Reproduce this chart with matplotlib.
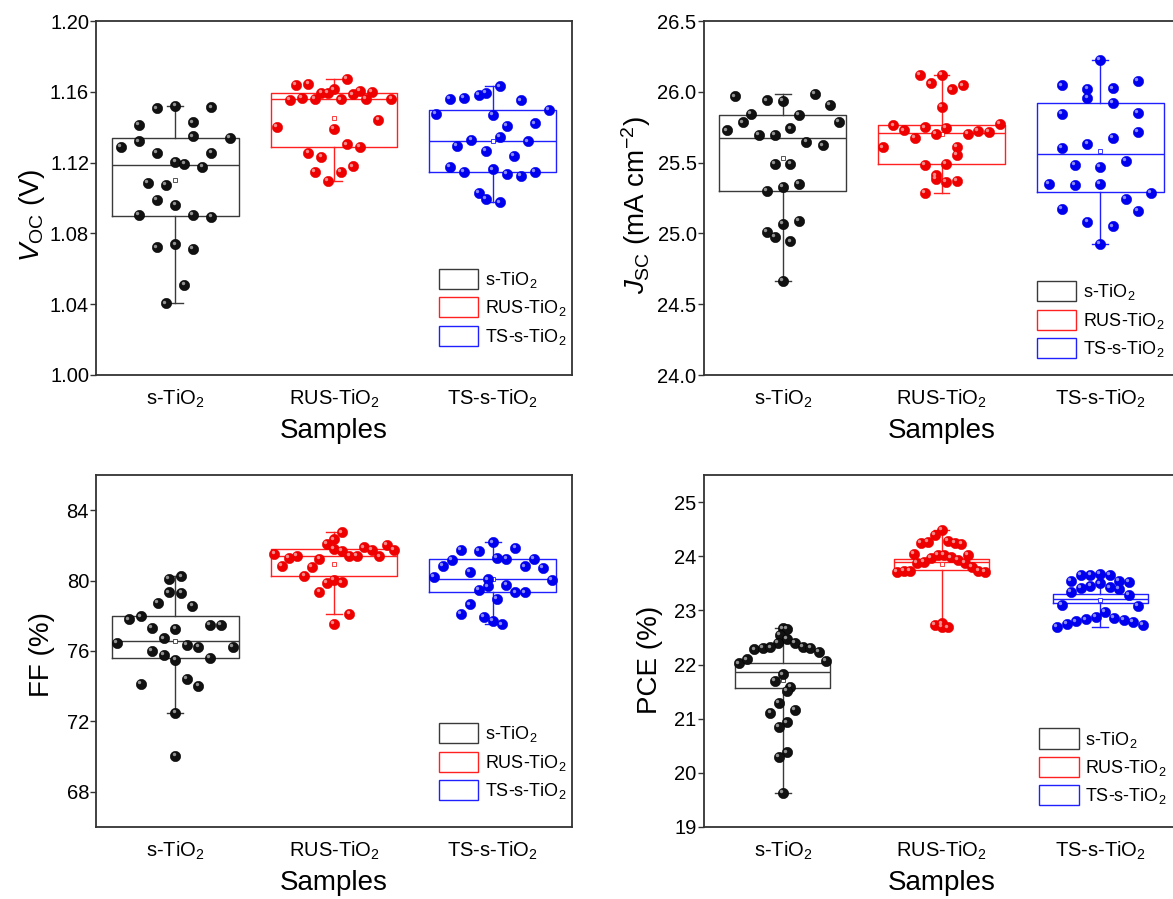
import matplotlib

matplotlib.use("Agg")
import matplotlib.pyplot as plt
from matplotlib.patches import Patch
from matplotlib.transforms import offset_copy

plt.rcParams["font.family"] = ["Liberation Sans", "DejaVu Sans"]
plt.rcParams["mathtext.fontset"] = "custom"
plt.rcParams["mathtext.rm"] = "Liberation Sans"
plt.rcParams["mathtext.it"] = "Liberation Sans:italic"
plt.rcParams["mathtext.bf"] = "Liberation Sans:bold"

SAMPLES = ["s-TiO$_2$", "RUS-TiO$_2$", "TS-s-TiO$_2$"]

# ---- V_OC (V) ----
voc_s_dx = [-0.116, 0, 0.227, -0.231, 0.111, 0.111, 0.342, -0.345, -0.231, -0.116, 0.227, 0, 0.057,
            0.170, -0.172, -0.059, -0.116, 0, -0.231, 0.111, 0.227, -0.116, 0, 0.111, 0.057, -0.059]
voc_s_y = [1.1506, 1.1521, 1.1512, 1.1414, 1.1427, 1.1348, 1.1341, 1.1288, 1.1320, 1.1255, 1.1255, 1.1206, 1.1194,
           1.1176, 1.1087, 1.1074, 1.0988, 1.0960, 1.0903, 1.0903, 1.0894, 1.0721, 1.0738, 1.0712, 1.0507, 1.0404]
voc_r_dx = [-0.241, -0.161, 0.081, -0.079, -0.039, 0, 0.121, 0.161, 0.241, -0.280, -0.201, -0.121, 0.041,
            0.200, 0.362, -0.362, 0.280, 0, 0.081, 0.161, -0.161, -0.079, -0.121, 0.041, 0.121, -0.039]
voc_r_y = [1.1638, 1.1643, 1.1675, 1.1594, 1.1593, 1.1613, 1.1585, 1.1606, 1.1598, 1.1553, 1.1566, 1.1562, 1.1557,
           1.1562, 1.1562, 1.1403, 1.1439, 1.1390, 1.1303, 1.1288, 1.1255, 1.1232, 1.1149, 1.1146, 1.1178, 1.1097]
voc_b_dx = [-0.267, -0.179, -0.088, -0.045, 0.044, 0.176, -0.357, 0, 0.355, 0.088, 0.267, -0.134, 0.044,
            0.223, -0.223, -0.045, 0.132, -0.267, -0.179, 0, 0.088, 0.176, 0.267, -0.088, -0.045, 0.044]
voc_b_y = [1.1562, 1.1564, 1.1583, 1.1596, 1.1630, 1.1551, 1.1474, 1.1468, 1.1500, 1.1407, 1.1422, 1.1326, 1.1343,
           1.1320, 1.1294, 1.1264, 1.1238, 1.1177, 1.1147, 1.1162, 1.1136, 1.1123, 1.1147, 1.1029, 1.0995, 1.0975]
voc_lo = [1.0404, 1.1097, 1.0975]
voc_q1 = [1.0901, 1.1286, 1.1149]
voc_med = [1.1185, 1.1561, 1.1322]
voc_q3 = [1.1339, 1.1593, 1.1499]
voc_hi = [1.1521, 1.1675, 1.1630]
voc_mean = [1.1104, 1.1452, 1.1322]

# ---- J_SC (mA cm-2) ----
jsc_s_dx = [-0.300, -0.101, 0, 0.200, 0.298, -0.202, 0.099, -0.252, -0.351, 0.351, -0.151, -0.050, 0.048,
            0.149, 0.250, -0.050, 0.048, -0.101, 0, 0.099, 0, 0.099, -0.101, -0.050, 0.048, 0]
jsc_s_y = [25.968, 25.939, 25.937, 25.986, 25.909, 25.845, 25.838, 25.784, 25.728, 25.786, 25.697, 25.695, 25.742,
           25.648, 25.622, 25.493, 25.493, 25.298, 25.328, 25.349, 25.067, 25.091, 25.011, 24.975, 24.943, 24.665]
jsc_r_dx = [-0.137, 0, -0.069, 0.065, 0.134, 0, -0.303, -0.235, -0.168, -0.103, -0.036, 0.029, 0.164,
            0.231, 0.298, 0.366, -0.370, 0.097, 0.097, -0.103, 0.029, -0.036, -0.036, 0.029, 0.097, -0.103]
jsc_r_y = [26.120, 26.120, 26.059, 26.017, 26.045, 25.892, 25.763, 25.728, 25.676, 25.749, 25.704, 25.747, 25.702,
           25.725, 25.716, 25.772, 25.608, 25.613, 25.554, 25.483, 25.490, 25.410, 25.387, 25.363, 25.373, 25.286]
jsc_b_dx = [0, -0.239, -0.080, 0.080, 0.239, -0.080, 0.080, -0.239, 0.239, 0.239, 0.080, -0.080, -0.239,
            0.160, -0.160, 0, -0.321, -0.160, 0, 0.319, 0.160, -0.239, 0.239, -0.080, 0.080, 0]
jsc_b_y = [26.228, 26.045, 26.019, 26.024, 26.075, 25.958, 25.923, 25.845, 25.850, 25.716, 25.674, 25.634, 25.606,
           25.514, 25.483, 25.471, 25.352, 25.343, 25.347, 25.286, 25.241, 25.173, 25.159, 25.084, 25.049, 24.924]
jsc_lo = [24.665, 25.286, 24.924]
jsc_q1 = [25.300, 25.487, 25.289]
jsc_med = [25.671, 25.711, 25.559]
jsc_q3 = [25.836, 25.766, 25.923]
jsc_hi = [25.986, 26.120, 26.228]
jsc_mean = [25.532, 25.700, 25.580]

# ---- FF (%) ----
ff_s_dx = [-0.038, 0.038, -0.038, 0.038, -0.111, 0.107, -0.292, -0.218, -0.147, 0, 0.216, 0.288, -0.074,
           -0.366, 0.071, 0.145, 0.363, -0.147, -0.074, 0, 0.216, -0.218, 0.071, 0.145, 0, 0]
ff_s_y = [80.11, 80.24, 79.33, 79.30, 78.73, 78.58, 77.80, 77.97, 77.33, 77.27, 77.46, 77.46, 76.72,
          76.44, 76.36, 76.21, 76.23, 76.00, 75.77, 75.49, 75.60, 74.13, 74.41, 74.03, 72.46, 70.02]
ff_r_dx = [0.048, 0, -0.046, 0, 0.048, -0.376, -0.282, -0.233, -0.092, 0.097, 0.143, 0.189, 0.237,
           0.286, 0.332, 0.380, -0.328, -0.139, -0.187, -0.046, 0, 0.048, -0.092, 0.097, 0]
ff_r_y = [82.74, 82.34, 82.08, 81.81, 81.68, 81.51, 81.28, 81.40, 81.21, 81.40, 81.40, 81.89, 81.74,
          81.38, 82.02, 81.74, 80.83, 80.76, 80.26, 79.86, 80.02, 79.90, 79.35, 78.10, 77.53]
ff_b_dx = [0, -0.200, -0.086, 0.143, -0.256, 0.029, 0.086, 0.258, -0.313, 0.202, 0.315, -0.143, -0.370,
           -0.029, 0.372, -0.086, -0.029, 0.086, 0.143, 0.202, 0.029, -0.143, -0.200, -0.057, 0, 0.057]
ff_b_y = [82.17, 81.74, 81.67, 81.87, 81.17, 81.31, 81.23, 81.25, 80.83, 80.81, 80.70, 80.49, 80.19,
          80.07, 80.05, 79.47, 79.67, 79.77, 79.33, 79.33, 78.94, 78.65, 78.10, 77.95, 77.69, 77.51]
ff_lo = [72.46, 78.10, 77.53]
ff_q1 = [75.60, 80.24, 79.38]
ff_med = [76.57, 81.38, 80.11]
ff_q3 = [77.97, 81.80, 81.23]
ff_hi = [80.24, 82.74, 82.17]
ff_mean = [76.57, 80.93, 80.07]

# ---- PCE (%) ----
pce_s_dx = [0, 0.025, -0.021, 0.025, -0.029, 0.076, -0.179, -0.126, -0.078, 0.126, 0.174, 0.225, -0.277,
            -0.225, 0.273, 0, -0.050, 0.048, 0.025, -0.025, -0.078, 0.076, 0.025, -0.025, 0.025, -0.025, 0]
pce_s_y = [22.669, 22.657, 22.552, 22.478, 22.404, 22.404, 22.281, 22.300, 22.318, 22.324, 22.300, 22.226, 22.022,
           22.096, 22.066, 21.819, 21.702, 21.591, 21.506, 21.290, 21.111, 21.166, 20.933, 20.841, 20.379, 20.287,
           19.634]
pce_r_dx = [0, -0.044, -0.130, -0.088, 0.042, 0.084, 0.126, -0.172, -0.025, 0.017, 0.061, 0.166, -0.067,
            -0.153, -0.111, 0.105, 0.147, 0.191, 0.233, 0.275, -0.282, -0.239, -0.197, -0.044, 0, 0.042, 0]
pce_r_y = [24.485, 24.399, 24.239, 24.263, 24.288, 24.251, 24.232, 24.048, 24.018, 24.030, 23.980, 24.030, 23.962,
           23.870, 23.901, 23.931, 23.870, 23.808, 23.734, 23.709, 23.715, 23.722, 23.734, 22.725, 22.699, 22.687,
           22.761]
pce_b_dx = [-0.120, -0.061, 0, 0.059, -0.183, 0.120, 0.181, -0.120, -0.061, 0, 0.059, 0.120, -0.183,
            0.181, -0.239, 0.239, -0.271, -0.212, -0.151, -0.090, -0.029, 0.029, 0.088, 0.149, 0.208, 0.269]
pce_b_y = [23.654, 23.654, 23.672, 23.648, 23.543, 23.549, 23.525, 23.414, 23.456, 23.500, 23.426, 23.401, 23.340,
           23.290, 23.106, 23.081, 22.693, 22.743, 22.798, 22.834, 22.884, 22.965, 22.866, 22.829, 22.786, 22.725]
pce_lo = [19.634, 22.712, 22.693]
pce_q1 = [21.567, 23.746, 23.131]
pce_med = [21.869, 23.900, 23.216]
pce_q3 = [22.035, 23.943, 23.309]
pce_hi = [22.669, 24.485, 23.672]
pce_mean = [21.715, 23.857, 23.190]

BOX_COLORS = ["#3a3a3a", "#ff2020", "#2020ff"]
DOT_COLORS = ["#111111", "#ee0000", "#0000ee"]
SPINE = "#333333"


def draw_panel(ax, points, stats, ylim, yticks, fmt, ylabel, ylabel_y, ylabel_pad, box_width, legend_xy):
    bstats = []
    for i in range(3):
        bstats.append({
            "med": stats[2][i], "q1": stats[1][i], "q3": stats[3][i],
            "whislo": stats[0][i], "whishi": stats[4][i], "mean": stats[5][i], "fliers": [],
        })
    parts = ax.bxp(bstats, positions=[1, 2, 3], widths=box_width, showmeans=True,
                   capwidths=0.1, manage_ticks=False)
    for i, color in enumerate(BOX_COLORS):
        parts["boxes"][i].set(color=color, linewidth=1.0)
        parts["medians"][i].set(color=color, linewidth=1.0)
        for line in parts["whiskers"][2 * i:2 * i + 2] + parts["caps"][2 * i:2 * i + 2]:
            line.set(color=color, linewidth=1.0)
        parts["means"][i].set(marker="s", markersize=3.5, markerfacecolor="white",
                              markeredgecolor=color, markeredgewidth=0.6)

    shine = offset_copy(ax.transData, fig=ax.figure, x=-1.3, y=1.3, units="points")
    for i, (dx, ys) in enumerate(points):
        xs = [i + 1 + d for d in dx]
        ax.scatter(xs, ys, s=55, color=DOT_COLORS[i], edgecolors="#000000" if i == 0 else DOT_COLORS[i],
                   linewidths=0.4, zorder=3)
        ax.scatter(xs, ys, s=6, color="white", alpha=0.55, linewidths=0, zorder=4, transform=shine)

    ax.set_xlim(0.5, 3.5)
    ax.set_ylim(*ylim)
    ax.set_yticks(yticks)
    ax.set_yticklabels([fmt.format(v) for v in yticks])
    ax.set_xticks([1, 2, 3])
    ax.set_xticklabels(SAMPLES)
    ax.tick_params(axis="x", length=0, pad=9, labelsize=14.5)
    ax.tick_params(axis="y", length=4, width=1.0, color=SPINE, labelsize=14.5, pad=1)
    for spine in ax.spines.values():
        spine.set_color(SPINE)
        spine.set_linewidth(1.3)
    ax.set_xlabel("Samples", fontsize=20, labelpad=6)
    ax.set_ylabel(ylabel, fontsize=20, labelpad=ylabel_pad)
    ax.yaxis.label.set_y(ylabel_y)

    handles = [Patch(facecolor="none", edgecolor=c, linewidth=1.0, label=l) for c, l in zip(BOX_COLORS, SAMPLES)]
    ax.legend(handles=handles, loc="upper left", bbox_to_anchor=legend_xy, frameon=False, fontsize=13,
              handlelength=2.2, handleheight=1.35, handletextpad=0.35, labelspacing=0.4, borderpad=0,
              borderaxespad=0)


def main() -> None:
    fig = plt.figure(figsize=(11.73, 8.99), dpi=100)
    w, h = 476 / 1173, 354 / 899
    ax1 = fig.add_axes([96 / 1173, 1 - 375 / 899, w, h])
    ax2 = fig.add_axes([703.5 / 1173, 1 - 375 / 899, w, h])
    ax3 = fig.add_axes([96 / 1173, 1 - 827 / 899, w, 352 / 899])
    ax4 = fig.add_axes([703.5 / 1173, 1 - 827 / 899, w, 352 / 899])

    draw_panel(ax1, [(voc_s_dx, voc_s_y), (voc_r_dx, voc_r_y), (voc_b_dx, voc_b_y)],
               [voc_lo, voc_q1, voc_med, voc_q3, voc_hi, voc_mean],
               (1.00, 1.20), [1.00, 1.04, 1.08, 1.12, 1.16, 1.20], "{:.2f}",
               r"$V_{\rm OC}$ (V)", 0.45, 2, 0.8, (0.72, 0.30))
    draw_panel(ax2, [(jsc_s_dx, jsc_s_y), (jsc_r_dx, jsc_r_y), (jsc_b_dx, jsc_b_y)],
               [jsc_lo, jsc_q1, jsc_med, jsc_q3, jsc_hi, jsc_mean],
               (24.0, 26.5), [24.0, 24.5, 25.0, 25.5, 26.0, 26.5], "{:.1f}",
               r"$J_{\rm SC}$ (mA cm$^{-2}$)", 0.48, 3, 0.8, (0.70, 0.265))
    draw_panel(ax3, [(ff_s_dx, ff_s_y), (ff_r_dx, ff_r_y), (ff_b_dx, ff_b_y)],
               [ff_lo, ff_q1, ff_med, ff_q3, ff_hi, ff_mean],
               (66, 86), [68, 72, 76, 80, 84], "{:.0f}",
               "FF (%)", 0.49, 8, 0.8, (0.72, 0.295))
    draw_panel(ax4, [(pce_s_dx, pce_s_y), (pce_r_dx, pce_r_y), (pce_b_dx, pce_b_y)],
               [pce_lo, pce_q1, pce_med, pce_q3, pce_hi, pce_mean],
               (19, 25.5), [19, 20, 21, 22, 23, 24, 25], "{:.0f}",
               "PCE (%)", 0.475, 8, 0.6, (0.705, 0.28))

    fig.savefig("out.png", dpi=100)
    plt.close(fig)


if __name__ == "__main__":
    main()
